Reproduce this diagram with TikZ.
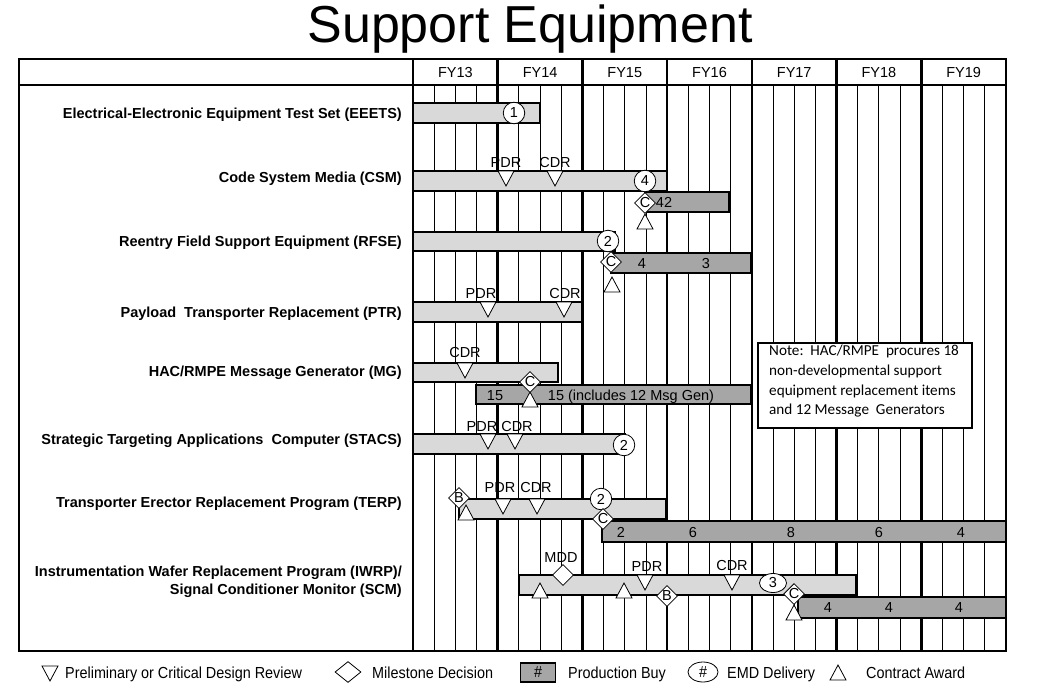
\documentclass[tikz,border=0pt]{standalone}
\usepackage{fontspec}
\setmainfont{Liberation Sans}
\newfontfamily\notefont{Carlito}
\newfontfamily\legendfont[FakeStretch=0.9]{Liberation Sans}
\usetikzlibrary{shapes.geometric}
\definecolor{barlight}{RGB}{217,217,217}
\definecolor{bardark}{RGB}{166,166,166}
\tikzset{
  yearline/.style={line width=2.6pt},
  qline/.style={line width=0.9pt},
  devbar/.style={draw, line width=2.3pt, fill=barlight},
  prodbar/.style={draw, line width=2.3pt, fill=bardark},
  emd/.style={circle, draw, fill=white, line width=0.8pt, inner sep=0pt, minimum size=21.5pt, font=\fontsize{14.5}{16}\selectfont},
  ms/.style={diamond, draw, fill=white, line width=0.8pt, inner sep=0pt, minimum width=21pt, minimum height=21pt, font=\fontsize{14.5}{16}\selectfont},
  txt/.style={inner sep=0pt, text height=10.4pt, text depth=0pt, font=\fontsize{14.5}{16}\selectfont},
  rowlab/.style={inner sep=0pt, anchor=east, text height=10.4pt, text depth=0pt, font=\bfseries\fontsize{14.5}{18}\selectfont},
  legtxt/.style={inner sep=0pt, anchor=west, text height=11.5pt, text depth=0pt, font=\legendfont\fontsize{16}{18}\selectfont},
  revmark/.pic={\draw[fill=white, line width=0.8pt] (-8,0) -- (8,0) -- (0,15) -- cycle;},
  awardmark/.pic={\draw[fill=white, line width=0.8pt] (-8,15) -- (8,15) -- (0,0) -- cycle;}
}
\begin{document}
\begin{tikzpicture}[x=1pt, y=-1pt]
\useasboundingbox (0,0) rectangle (1059,682);
\fill[white] (0,0) rectangle (1059,682);

% title
\node[inner sep=0pt, anchor=base, font=\fontsize{52}{60}\selectfont] (title) at (530,43) {Support Equipment};

% grid
\foreach \i in {0,...,6} {
  \foreach \q in {1,2,3} {
    \draw[qline] ({413+84.714*(\i+\q/4)},85) -- ({413+84.714*(\i+\q/4)},651);
  }
}
\foreach \i in {1,...,6} {
  \draw[yearline] ({413+84.714*\i},59) -- ({413+84.714*\i},651);
}
\foreach \y [count=\i from 0] in {13,14,15,16,17,18,19} {
  \node[txt] (fy\y) at ({413+84.714*(\i+0.5)},72) {FY\y};
}

% row labels
\node[rowlab] (l1) at (402,113) {Electrical-Electronic Equipment Test Set (EEETS)};
\node[rowlab] (l2) at (402,177) {Code System Media (CSM)};
\node[rowlab] (l3) at (402,241) {Reentry Field Support Equipment (RFSE)};
\node[rowlab] (l4) at (402,312) {Payload\ \ Transporter Replacement (PTR)};
\node[rowlab] (l5) at (402,371) {HAC/RMPE Message Generator (MG)};
\node[rowlab] (l6) at (402,439) {Strategic Targeting Applications\ \ Computer (STACS)};
\node[rowlab] (l7) at (402,502) {Transporter Erector Replacement Program (TERP)};
\node[rowlab] (l8a) at (402,571) {Instrumentation Wafer Replacement Program (IWRP)/};
\node[rowlab] (l8b) at (402,589) {Signal Conditioner Monitor (SCM)};

% bars
\draw[devbar] (413,103) rectangle (540,123);
\draw[devbar] (413,171) rectangle (667,191);
\draw[prodbar] (645,192) rectangle (729,212);
\draw[devbar] (413,232) rectangle (615,251);
\draw[prodbar] (611,253) rectangle (751,273);
\draw[devbar] (413,302) rectangle (582,322);
\draw[devbar] (413,363) rectangle (558,382);
\draw[prodbar] (476,385) rectangle (751,404);
\draw[devbar] (413,434) rectangle (625,454);
\draw[devbar] (459,499) rectangle (666,519);
\draw[prodbar] (602,521) rectangle (1006,542);
\draw[devbar] (519,575) rectangle (856,595);
\draw[prodbar] (798,597) rectangle (1006,618);

% frame
\draw[line width=2.6pt] (19,59) rectangle (1006,651);
\draw[line width=2.6pt] (19,85) -- (1006,85);
\draw[line width=2.6pt] (413,59) -- (413,651);

% row 1 EEETS
\node[emd] (e1) at (514,113) {1};

% row 2 CSM
\pic at (506,171) {revmark};
\pic at (555,171) {revmark};
\node[txt] (pdr2) at (506,162) {PDR};
\node[txt] (cdr2) at (555,162) {CDR};
\node[emd] (e2) at (645,181) {4};
\node[txt] (n2a) at (664,202) {42};
\pic at (645,214) {awardmark};
\node[ms] (c2) at (645,203) {C};

% row 3 RFSE
\node[emd] (e3) at (608,241) {2};
\node[txt] (n3a) at (642,263) {4};
\node[txt] (n3b) at (706,263) {3};
\pic at (612,277) {awardmark};
\node[ms] (c3) at (611,262) {C};

% row 4 PTR
\pic at (488,302) {revmark};
\pic at (564,302) {revmark};
\node[txt] (pdr4) at (481,293) {PDR};
\node[txt] (cdr4) at (565,293) {CDR};

% row 5 MG
\pic at (465,363) {revmark};
\node[txt] (cdr5) at (465,352) {CDR};
\node[txt] (n5a) at (495,395) {15};
\node[txt] (n5b) at (631,395) {15 (includes 12 Msg Gen)};
\pic at (530,392) {awardmark};
\node[ms] (c5) at (530,382) {C};

% row 6 STACS
\pic at (488,434) {revmark};
\pic at (515,434) {revmark};
\node[txt] (pdr6) at (482,426) {PDR};
\node[txt] (cdr6) at (517,426) {CDR};
\node[emd] (e6) at (624,445) {2};

% row 7 TERP
\pic at (466,505) {awardmark};
\node[ms] (b7) at (459,498) {B};
\pic at (503,499) {revmark};
\pic at (537,499) {revmark};
\node[txt] (pdr7) at (500,487) {PDR};
\node[txt] (cdr7) at (536,487) {CDR};
\node[emd] (e7) at (601,499) {2};
\node[ms] (c7) at (603,519) {C};
\node[txt] (n7a) at (621,532) {2};
\node[txt] (n7b) at (693,532) {6};
\node[txt] (n7c) at (791,532) {8};
\node[txt] (n7d) at (879,532) {6};
\node[txt] (n7e) at (961,532) {4};

% row 8 IWRP
\node[ms] (mdd) at (563,575) {};
\node[txt] (mddl) at (561,557) {MDD};
\pic at (540,583) {awardmark};
\pic at (624,583) {awardmark};
\pic at (645,575) {revmark};
\node[txt] (pdr8) at (647,566) {PDR};
\node[ms] (b8) at (667,596) {B};
\pic at (732,575) {revmark};
\node[txt] (cdr8) at (732,565) {CDR};
\node[ellipse, draw, fill=white, line width=0.8pt, inner sep=0pt, minimum width=27pt, minimum height=19pt, font=\fontsize{14.5}{16}\selectfont] (e8) at (773,583) {3};
\pic at (794,605) {awardmark};
\node[ms] (c8) at (794,594) {C};
\node[txt] (n8a) at (828,607) {4};
\node[txt] (n8b) at (889,607) {4};
\node[txt] (n8c) at (959,607) {4};

% note
\draw[fill=white, line width=1.5pt] (758,343) rectangle (972,428);
\node[inner sep=0pt, anchor=north west, align=left, font=\notefont\fontsize{15.2}{19.7}\selectfont] (note) at (769,345)
  {Note:\ \ HAC/RMPE\ \ procures 18\\non-developmental support\\equipment replacement items\\and 12 Message\ \ Generators};

% legend
\pic at (50,666) {revmark};
\node[legtxt] (lg1) at (65,673) {Preliminary or Critical Design Review};
\node[diamond, draw, fill=white, line width=0.8pt, minimum width=26pt, minimum height=21pt, inner sep=0pt] (lgd) at (348,672) {};
\node[legtxt] (lg2) at (372,673) {Milestone Decision};
\node[draw, fill=bardark, line width=1.6pt, minimum width=35pt, minimum height=19pt, inner sep=0pt, font=\legendfont\fontsize{16}{18}\selectfont] (lgb) at (538,672.5) {\#};
\node[legtxt] (lg3) at (568,673) {Production Buy};
\node[ellipse, draw, fill=white, line width=0.8pt, minimum width=30pt, minimum height=20pt, inner sep=0pt, font=\legendfont\fontsize{16}{18}\selectfont] (lge) at (703,672) {\#};
\node[legtxt] (lg4) at (727,673) {EMD Delivery};
\pic at (838,665) {awardmark};
\node[legtxt] (lg5) at (866,673) {Contract Award};
\end{tikzpicture}
\end{document}
